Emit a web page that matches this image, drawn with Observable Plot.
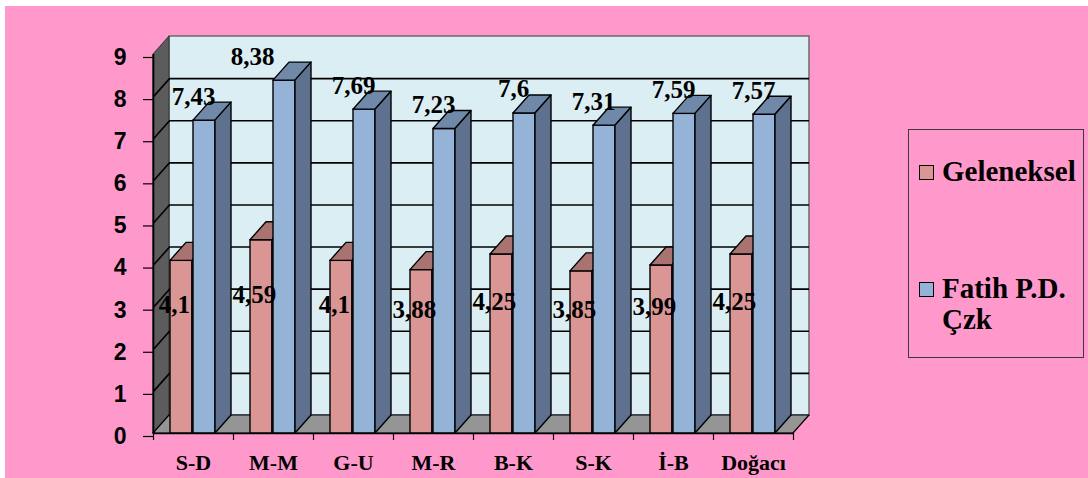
<!DOCTYPE html>
<html>
<head>
<meta charset="utf-8">
<script src="https://cdn.jsdelivr.net/npm/d3@7"></script>
<script src="https://cdn.jsdelivr.net/npm/@observablehq/plot@0.6"></script>
<style>
  html, body { margin: 0; padding: 0; background: #fff; width: 1088px; height: 478px; overflow: hidden; }
  #panel { position: absolute; left: 5px; top: 6px; right: 0; bottom: 0; background: #FF99CC; }
  #chart { position: absolute; left: 0; top: 0; }
  #legend {
    position: absolute; left: 908px; top: 129px; width: 176px; height: 229px;
    border: 1px solid #3a3a3a; box-sizing: border-box; color: #000;
  }
  .item { position: absolute; left: 33px; }
  .swatch { position: absolute; left: -23px; width: 13px; height: 13px; border: 1.5px solid #000; }
</style>
</head>
<body>
<div id="panel"></div>
<div id="chart"></div>
<div id="legend"></div>
<script>
// Categories and the two series (mean scores)
const categories = ["S-D", "M-M", "G-U", "M-R", "B-K", "S-K", "İ-B", "Doğacı"];
const geleneksel = [4.1, 4.59, 4.1, 3.88, 4.25, 3.85, 3.99, 4.25];
const fatih = [7.43, 8.38, 7.69, 7.23, 7.6, 7.31, 7.59, 7.57];
const seriesNames = ["Geleneksel", "Fatih P.D. Çzk"];
const yTicks = [0, 1, 2, 3, 4, 5, 6, 7, 8, 9];

// Colours per series: front, top, side faces
const faceColors = [
  { front: "#D99694", top: "#A87371", side: "#8C5D5C" },
  { front: "#95B3D7", top: "#7189A8", side: "#5E7290" }
];

const n = categories.length;
const yMax = yTicks[yTicks.length - 1];

// 3D depth offsets, expressed in scale units (x: category units, y: value units)
const depthX = 0.2;
const depthY = 0.4275;
const barW = 0.275;
const seriesOffset = [0.2125, 0.5];

const fmt = v => String(v).replace(".", ",");

const bars = [];
[geleneksel, fatih].forEach((vals, s) => {
  vals.forEach((v, i) => {
    const x1 = i + seriesOffset[s];
    bars.push({ id: `${s}-${i}`, s, i, v, x1, x2: x1 + barW });
  });
});

const tops = bars.flatMap(b => [
  { id: b.id, s: b.s, y: b.v, x1: b.x1, x2: b.x2 },
  { id: b.id, s: b.s, y: b.v + depthY, x1: b.x1 + depthX, x2: b.x2 + depthX }
]);
const sides = bars.flatMap(b => [
  { id: b.id, s: b.s, x: b.x2, y1: 0, y2: b.v },
  { id: b.id, s: b.s, x: b.x2 + depthX, y1: depthY, y2: b.v + depthY }
]);

const sw = 1.4;
const barMarks = [0, 1].flatMap(s => [
  Plot.rect(bars.filter(b => b.s === s), {
    x1: "x1", x2: "x2", y1: 0, y2: "v",
    fill: faceColors[s].front, stroke: "#000", strokeWidth: sw
  }),
  Plot.areaX(tops.filter(d => d.s === s), {
    y: "y", x1: "x1", x2: "x2", z: "id",
    fill: faceColors[s].top, stroke: "#000", strokeWidth: sw
  }),
  Plot.areaY(sides.filter(d => d.s === s), {
    x: "x", y1: "y1", y2: "y2", z: "id",
    fill: faceColors[s].side, stroke: "#000", strokeWidth: sw
  })
]);

const serif = "Liberation Serif, Times New Roman, serif";
const sans = "Liberation Sans, Arial, sans-serif";
const tallest = d3.max(fatih);

const chart = Plot.plot({
  width: 900,
  height: 478,
  marginLeft: 153,
  marginRight: 107,
  marginTop: 54,
  marginBottom: 45,
  style: { background: "transparent", overflow: "visible" },
  x: { domain: [0, n] },
  y: { domain: [0, yMax] },
  marks: [
    // back wall
    Plot.rect([0], {
      x1: depthX, x2: n + depthX, y1: depthY, y2: yMax + depthY,
      fill: "#DBEEF4", stroke: "#5a5a5a", strokeWidth: 1.3
    }),
    // left wall
    Plot.areaY([{ x: 0, y1: 0, y2: yMax }, { x: depthX, y1: depthY, y2: yMax + depthY }], {
      x: "x", y1: "y1", y2: "y2", fill: "#5C5C5C", stroke: "#333", strokeWidth: 1
    }),
    // floor
    Plot.areaX([{ y: 0, x1: 0, x2: n }, { y: depthY, x1: depthX, x2: n + depthX }], {
      y: "y", x1: "x1", x2: "x2", fill: "#959595", stroke: "#000", strokeWidth: 1.2
    }),
    // gridlines on the back wall and the left wall
    Plot.ruleY(yTicks.slice(1, -1), {
      y: d => d + depthY, x1: depthX, x2: n + depthX, stroke: "#000", strokeWidth: 1.6
    }),
    Plot.link(yTicks.slice(1, -1), {
      x1: 0, y1: d => d, x2: depthX, y2: d => d + depthY, stroke: "#000", strokeWidth: 1.6
    }),
    ...barMarks,
    // axes
    Plot.ruleX([0], { y1: 0, y2: yMax, stroke: "#000", strokeWidth: 1.6 }),
    Plot.ruleY([0], { x1: 0, x2: n, stroke: "#000", strokeWidth: 1.6 }),
    Plot.axisY({
      ticks: yTicks, tickSize: 10, tickPadding: 17, tickFormat: d => String(d),
      fontSize: 23, fontWeight: "bold", fontFamily: sans, fill: "#000",
      stroke: "#000", strokeWidth: 1.2, label: null, dy: 3
    }),
    Plot.axisX({
      ticks: d3.range(n + 1), tickSize: 7, tickFormat: () => "",
      stroke: "#000", strokeWidth: 1.2, label: null
    }),
    Plot.text(categories, {
      x: (d, i) => i + 0.5, y: 0, text: d => d, dy: 29,
      fontSize: 22, fontWeight: "bold", fontFamily: serif, fill: "#000", lineAnchor: "middle"
    }),
    // value labels
    Plot.text(geleneksel, {
      x: (d, i) => i + 0.26, y: d => d / 2 + 1, text: fmt,
      fontSize: 25, fontWeight: "bold", fontFamily: serif, fill: "#000", lineAnchor: "middle"
    }),
    Plot.text(fatih, {
      // the tallest label shifts left so it stays inside the back wall
      x: (d, i) => i + seriesOffset[1] - (d === tallest ? 0.26 : 0),
      y: d => d, text: fmt, dy: -24,
      fontSize: 25, fontWeight: "bold", fontFamily: serif, fill: "#000", lineAnchor: "middle"
    })
  ]
});
document.getElementById("chart").appendChild(chart);

// Legend
const legend = document.getElementById("legend");
const itemTops = [26, 143];
seriesNames.forEach((name, s) => {
  const item = document.createElement("div");
  item.className = "item";
  item.style.top = itemTops[s] + "px";
  item.style.fontFamily = "'Liberation Serif', 'Times New Roman', serif";
  item.style.fontWeight = "bold";
  item.style.fontSize = "29px";
  item.style.lineHeight = "31px";
  const sq = document.createElement("span");
  sq.className = "swatch";
  sq.style.top = "9px";
  sq.style.background = faceColors[s].front;
  item.appendChild(sq);
  const words = name === "Fatih P.D. Çzk" ? ["Fatih P.D.", "Çzk"] : [name];
  words.forEach(w => {
    const line = document.createElement("div");
    line.textContent = w;
    line.style.whiteSpace = "nowrap";
    item.appendChild(line);
  });
  legend.appendChild(item);
});
</script>
</body>
</html>
